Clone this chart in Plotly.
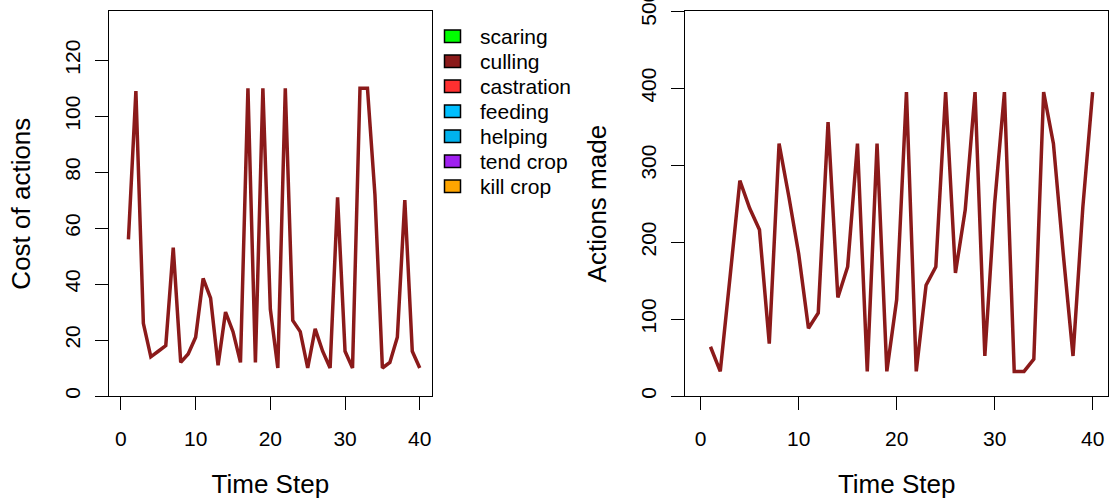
import plotly.graph_objects as go

# ---- data ----
time_steps = list(range(1, 41))
cost_of_actions = [56, 109, 26, 14, 16, 18, 53, 12, 15, 21,
                   42, 35, 11, 30, 23, 12, 110, 12, 110, 31,
                   10, 110, 27, 23, 10, 24, 16, 10, 71, 16,
                   10, 110, 110, 72, 10, 12, 21, 70, 16, 10]
actions_made = [64, 32, 155, 280, 244, 216, 68, 328, 259, 185,
                88, 108, 356, 128, 168, 328, 32, 328, 32, 125,
                395, 32, 144, 168, 395, 160, 242, 395, 52, 250,
                395, 32, 32, 48, 395, 328, 185, 52, 245, 395]
legend_labels = ["scaring", "culling", "castration", "feeding",
                 "helping", "tend crop", "kill crop"]
legend_colors = ["#00FF00", "#8B1A1A", "#FF3030", "#00BFFF",
                 "#00B2EE", "#A020F0", "#FFA500"]
x_ticks = [0, 10, 20, 30, 40]
cost_ticks = [0, 20, 40, 60, 80, 100, 120]
action_ticks = [0, 100, 200, 300, 400, 500]

LINE_COLOR = "#8B1A1A"
FONT = "Liberation Sans, Arial, Helvetica, sans-serif"
W, H = 1110, 499

fig = go.Figure()
fig.add_trace(go.Scatter(x=time_steps, y=cost_of_actions, mode="lines",
                         line=dict(color=LINE_COLOR, width=3.5),
                         xaxis="x", yaxis="y", showlegend=False))
fig.add_trace(go.Scatter(x=time_steps, y=actions_made, mode="lines",
                         line=dict(color=LINE_COLOR, width=3.5),
                         xaxis="x2", yaxis="y2", showlegend=False))

common = dict(showline=True, mirror=True, linecolor="black", linewidth=1.3,
              ticks="outside", ticklen=13, tickwidth=1.3, tickcolor="black",
              showgrid=False, zeroline=False, ticklabeloverflow="allow",
              automargin=False,
              tickfont=dict(size=21, color="black", family=FONT))
xcommon = dict(common, range=[-1.6, 41.6], tickvals=x_ticks,
               ticklabelstandoff=11,
               title=dict(text="Time Step", standoff=26,
                          font=dict(size=26, color="black", family=FONT)))
ydom = [1 - 396 / H, 1 - 11.3 / H]

fig.update_layout(
    width=W, height=H,
    margin=dict(l=0, r=0, t=0, b=0),
    paper_bgcolor="white", plot_bgcolor="white",
    showlegend=False,
    xaxis=dict(xcommon, domain=[109 / W, 431.7 / W], anchor="y"),
    xaxis2=dict(xcommon, domain=[685 / W, 1108.3 / W], anchor="y2"),
    yaxis=dict(common, domain=ydom, range=[0, 137.5], tickvals=cost_ticks,
               tickangle=-90, ticklabelstandoff=6, anchor="x",
               title=dict(text="Cost of actions", standoff=23,
                          font=dict(size=26, color="black", family=FONT))),
    yaxis2=dict(common, domain=ydom, range=[0, 500], tickvals=action_ticks,
                tickangle=-90, ticklabelstandoff=6, anchor="x2",
                title=dict(text="Actions made", standoff=23,
                           font=dict(size=26, color="black", family=FONT))),
)

# legend (R-style filled boxes with labels) placed to the right of left panel
for i, (lab, col) in enumerate(zip(legend_labels, legend_colors)):
    cy = 36.3 + 25 * i
    fig.add_shape(type="rect", xref="paper", yref="paper",
                  x0=444.5 / W, x1=460.5 / W,
                  y0=1 - (cy + 6.3) / H, y1=1 - (cy - 6.3) / H,
                  fillcolor=col, line=dict(color="black", width=1.5))
    fig.add_annotation(x=478 / W, y=1 - cy / H, xref="paper", yref="paper",
                       text=lab, showarrow=False, xanchor="left",
                       yanchor="middle",
                       font=dict(size=21, color="black", family=FONT))

fig.write_html("out.html",
               config={"displayModeBar": False},
               post_script="document.body.style.margin='0';"
                           "document.body.style.overflow='hidden';")
